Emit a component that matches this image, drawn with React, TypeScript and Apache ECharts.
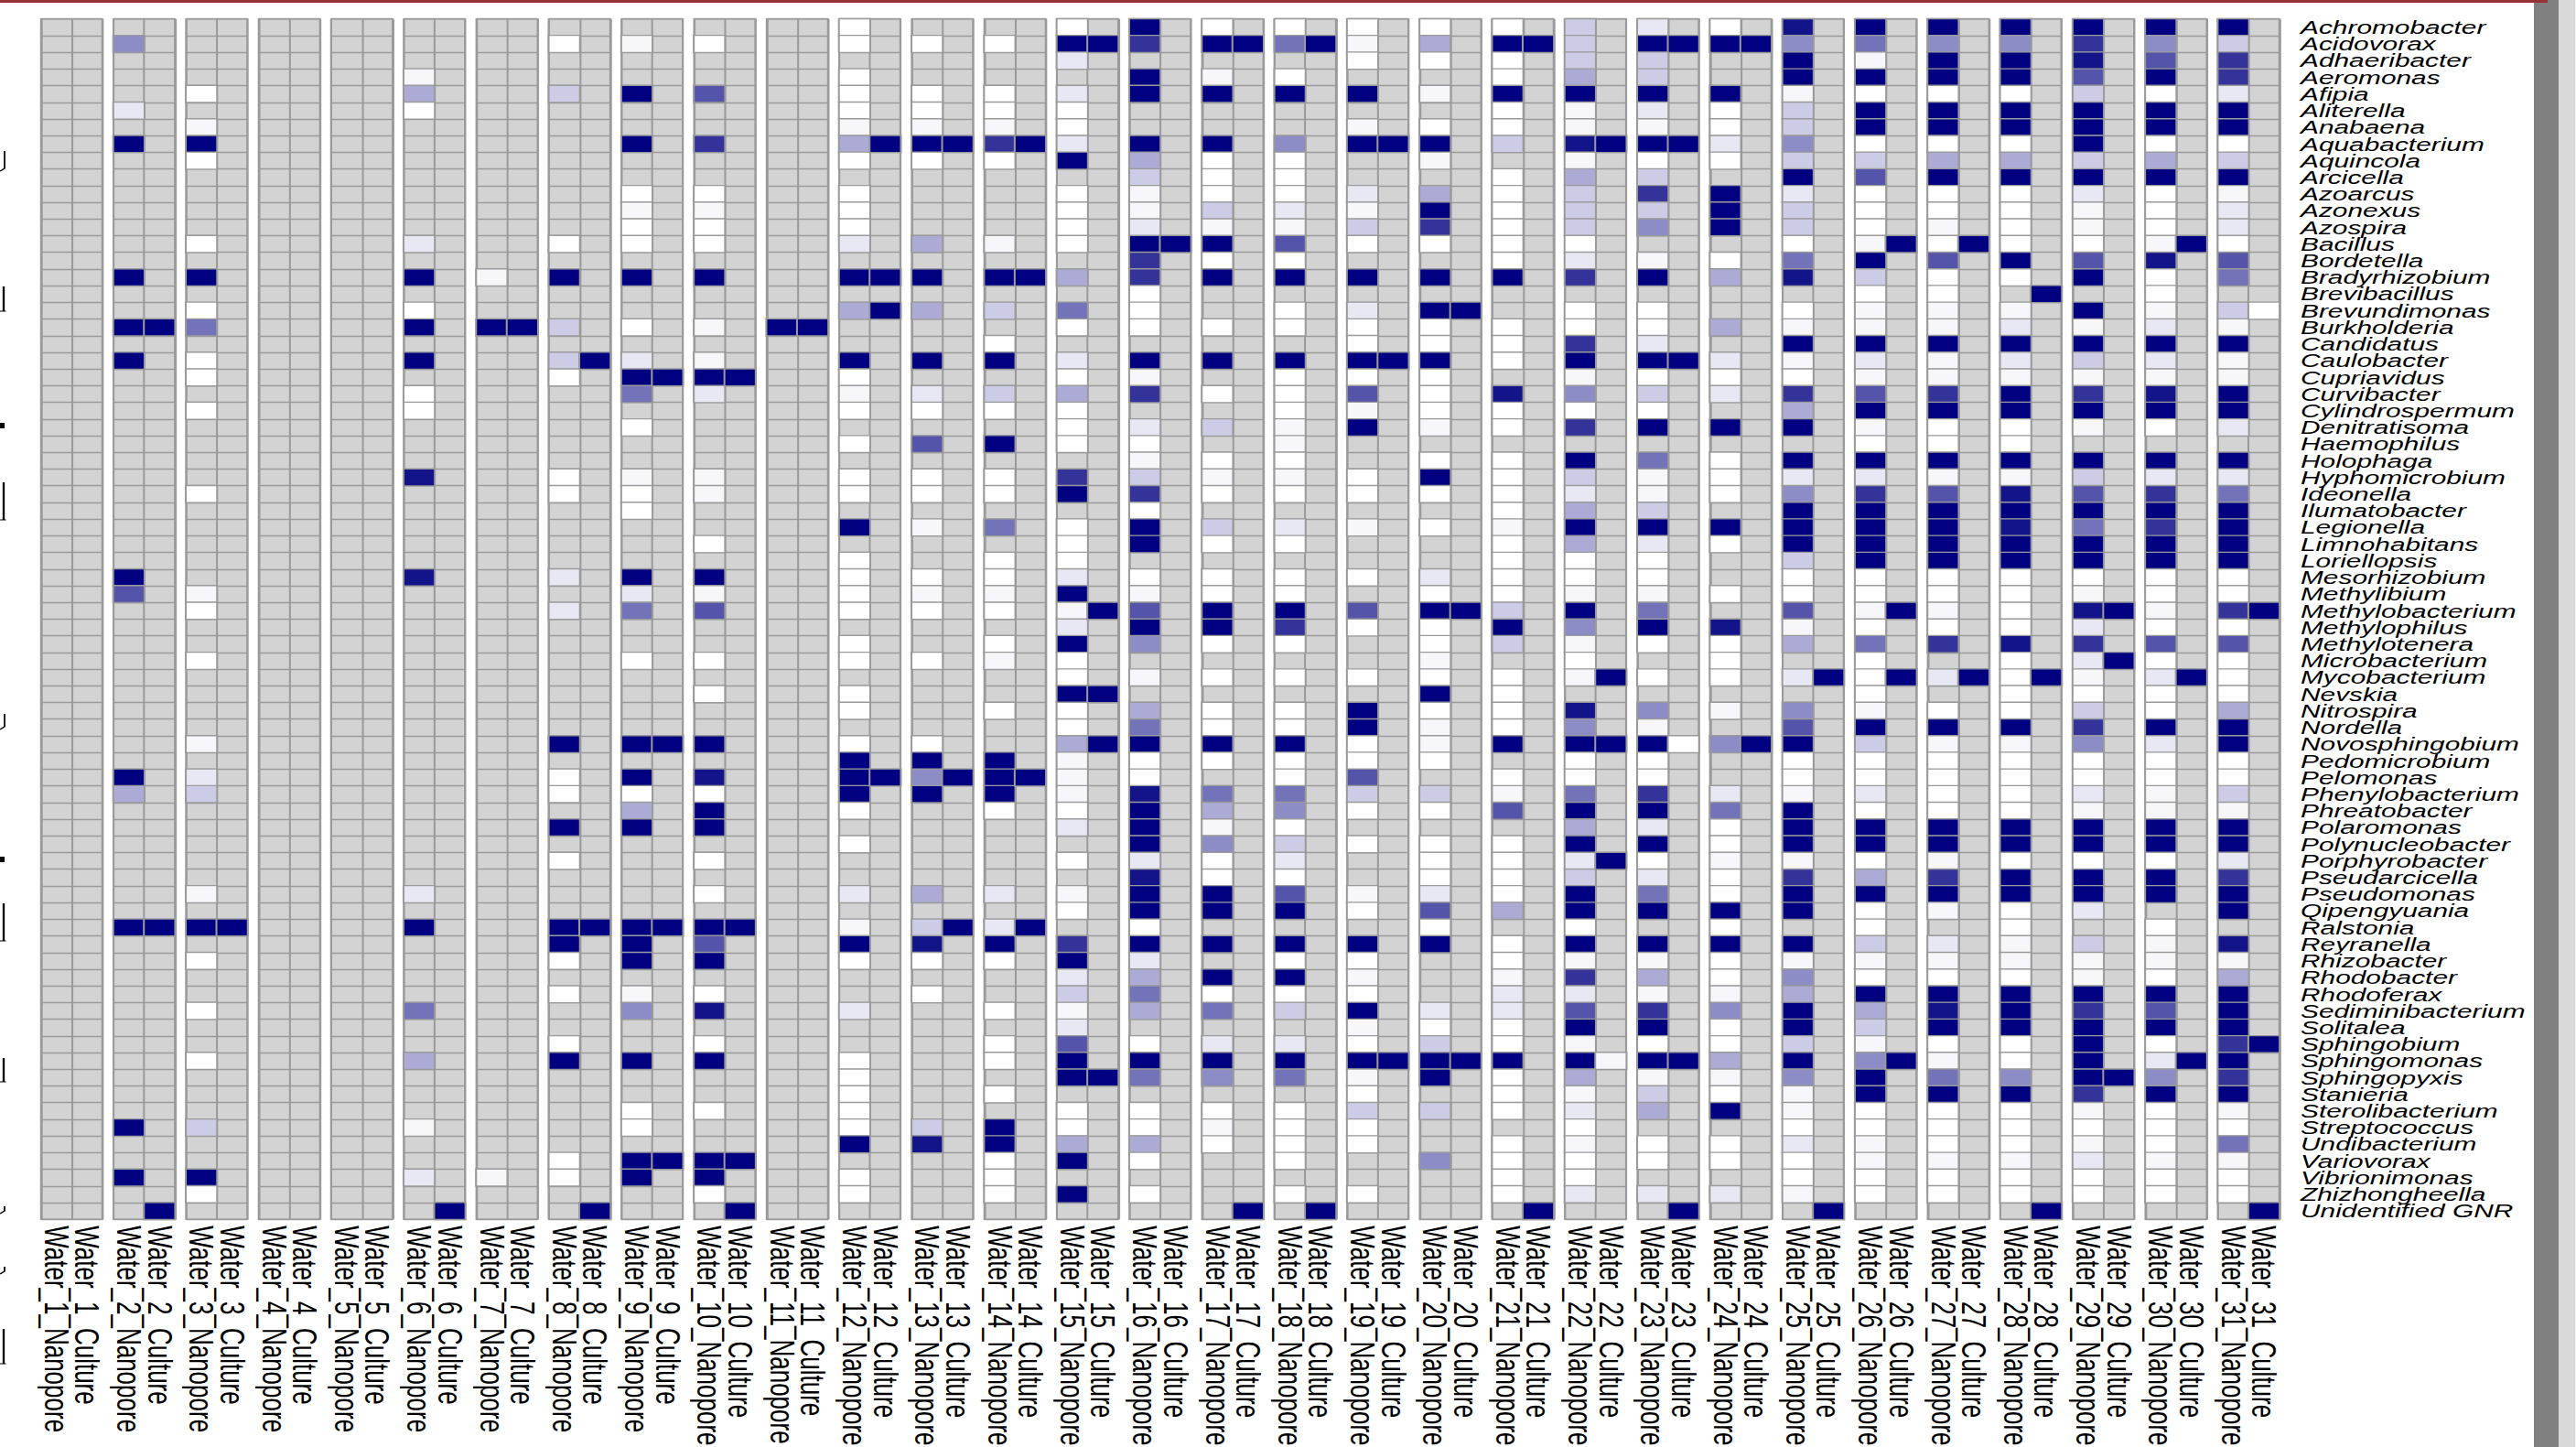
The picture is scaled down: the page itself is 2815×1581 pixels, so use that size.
import React, { useEffect, useRef } from "react";
import * as echarts from "echarts";

// The reference is a raster stretched sideways; the chart is laid out in the
// narrower space and widened as a whole, so glyphs and lines widen with it.
const STRETCH = 1.45;

const genera = [
  "Achromobacter", "Acidovorax", "Adhaeribacter", "Aeromonas", "Afipia", "Aliterella", "Anabaena", "Aquabacterium",
  "Aquincola", "Arcicella", "Azoarcus", "Azonexus", "Azospira", "Bacillus", "Bordetella", "Bradyrhizobium",
  "Brevibacillus", "Brevundimonas", "Burkholderia", "Candidatus", "Caulobacter", "Cupriavidus", "Curvibacter",
  "Cylindrospermum", "Denitratisoma", "Haemophilus", "Holophaga", "Hyphomicrobium", "Ideonella", "Ilumatobacter",
  "Legionella", "Limnohabitans", "Loriellopsis", "Mesorhizobium", "Methylibium", "Methylobacterium", "Methylophilus",
  "Methylotenera", "Microbacterium", "Mycobacterium", "Nevskia", "Nitrospira", "Nordella", "Novosphingobium",
  "Pedomicrobium", "Pelomonas", "Phenylobacterium", "Phreatobacter", "Polaromonas", "Polynucleobacter",
  "Porphyrobacter", "Pseudarcicella", "Pseudomonas", "Qipengyuania", "Ralstonia", "Reyranella", "Rhizobacter",
  "Rhodobacter", "Rhodoferax", "Sediminibacterium", "Solitalea", "Sphingobium", "Sphingomonas", "Sphingopyxis",
  "Stanieria", "Sterolibacterium", "Streptococcus", "Undibacterium", "Variovorax", "Vibrionimonas", "Zhizhongheella",
  "Unidentified GNR",
];

// level index -> abundance on the white-to-navy scale
const shadeByLevel = [0, 0.03, 0.09, 0.2, 0.33, 0.45, 0.55, 0.67, 0.8, 1, 0.92];

type Cell = [number, number]; // [1-based genus number, shade level]; absent = no data

const nanopore: Cell[][] = [
  [],
  [[2,5],[6,2],[8,9],[16,9],[19,9],[21,9],[34,9],[35,7],[46,9],[47,4],[55,9],[67,9],[70,9]],
  [[5,0],[7,1],[8,9],[9,0],[14,0],[16,9],[18,0],[19,6],[21,0],[22,0],[24,0],[29,0],[35,1],[36,0],[39,0],[44,1],[46,2],[47,3],[53,1],[55,9],[57,0],[60,0],[63,0],[67,3],[70,9],[71,0]],
  [],
  [],
  [[4,1],[5,4],[6,0],[14,2],[16,9],[18,0],[19,9],[21,9],[23,0],[24,0],[28,10],[34,10],[53,2],[55,9],[60,6],[63,4],[67,1],[70,2]],
  [[16,1],[19,9],[70,1]],
  [[2,0],[5,3],[14,0],[16,9],[19,3],[21,3],[22,0],[28,0],[29,0],[34,2],[36,2],[44,9],[46,0],[47,0],[49,9],[51,0],[55,9],[56,9],[57,0],[59,0],[62,0],[63,9],[69,0],[70,0]],
  [[2,1],[5,9],[8,9],[11,0],[12,1],[13,0],[14,0],[16,9],[19,0],[21,2],[22,9],[23,6],[25,0],[28,1],[29,0],[30,0],[34,9],[35,2],[36,6],[39,0],[44,9],[46,9],[47,0],[48,4],[49,9],[55,9],[56,9],[57,9],[59,1],[60,5],[63,9],[66,0],[67,0],[69,9],[70,9]],
  [[2,0],[5,7],[8,8],[11,0],[12,1],[13,0],[14,0],[16,9],[19,1],[21,1],[22,9],[23,2],[28,1],[29,1],[32,0],[34,9],[35,1],[36,7],[39,0],[41,0],[44,9],[46,10],[47,0],[48,9],[49,9],[51,0],[53,0],[55,9],[56,7],[57,9],[59,0],[60,10],[62,0],[63,9],[66,0],[69,9],[70,9],[71,0]],
  [[19,9]],
  [[1,0],[2,0],[4,0],[5,0],[6,0],[7,1],[8,4],[9,0],[11,0],[12,0],[13,0],[14,2],[16,9],[18,4],[21,9],[22,0],[23,1],[24,0],[26,0],[28,0],[29,0],[31,9],[33,0],[34,0],[35,0],[36,0],[38,0],[39,0],[41,0],[42,0],[44,0],[45,9],[46,9],[47,9],[48,0],[50,0],[53,2],[55,1],[56,9],[57,0],[60,2],[63,0],[64,0],[65,0],[66,0],[67,0],[68,9],[70,0],[71,0]],
  [[2,0],[5,0],[6,0],[7,1],[8,9],[9,0],[14,4],[16,9],[18,4],[21,9],[23,2],[24,0],[26,7],[28,0],[29,0],[31,1],[34,0],[35,1],[36,0],[39,0],[44,0],[45,9],[46,5],[47,9],[53,4],[55,3],[56,10],[57,0],[59,0],[67,3],[68,10]],
  [[2,0],[5,0],[6,0],[7,1],[8,8],[9,0],[14,1],[16,9],[18,3],[20,0],[21,9],[23,3],[24,0],[26,9],[28,0],[29,0],[31,6],[33,0],[34,0],[35,1],[36,0],[38,0],[39,1],[42,0],[45,9],[46,9],[47,9],[48,0],[53,2],[55,2],[56,9],[57,0],[60,0],[62,0],[63,0],[65,0],[67,9],[68,9],[69,0],[70,0],[71,0]],
  [[1,0],[2,9],[3,2],[5,2],[6,0],[7,0],[8,2],[9,9],[11,0],[12,0],[13,0],[14,0],[16,4],[18,6],[19,0],[21,2],[22,0],[23,4],[24,0],[25,0],[26,0],[28,8],[29,9],[31,0],[32,0],[33,0],[34,2],[35,9],[36,1],[37,2],[38,9],[39,0],[40,0],[41,9],[42,0],[43,0],[44,4],[45,1],[46,1],[47,1],[48,0],[49,2],[51,0],[53,1],[54,0],[56,8],[57,9],[58,2],[59,3],[60,1],[61,2],[62,7],[63,9],[64,9],[66,0],[67,0],[68,4],[69,9],[71,9]],
  [[1,9],[2,8],[4,9],[5,9],[8,9],[9,4],[10,3],[11,1],[12,1],[13,2],[14,9],[15,8],[16,8],[17,0],[18,0],[19,0],[21,9],[22,1],[23,8],[25,2],[26,0],[27,1],[28,3],[29,8],[30,0],[31,9],[32,9],[34,0],[35,1],[36,7],[37,9],[38,5],[40,1],[42,4],[43,6],[44,9],[45,0],[46,0],[47,10],[48,9],[49,9],[50,9],[51,2],[52,10],[53,9],[54,9],[55,0],[56,9],[57,2],[58,4],[59,6],[60,4],[62,0],[63,9],[64,6],[66,0],[67,0],[68,4],[69,0],[71,0]],
  [[1,0],[2,9],[4,1],[5,9],[8,9],[9,0],[10,0],[11,0],[12,3],[13,1],[14,9],[15,0],[16,9],[19,0],[21,9],[23,0],[25,3],[27,0],[28,1],[29,0],[31,3],[32,0],[34,0],[35,0],[36,9],[37,9],[38,0],[40,0],[42,0],[43,0],[44,9],[45,0],[47,6],[48,4],[49,1],[50,5],[51,0],[52,0],[53,9],[54,9],[56,9],[58,9],[59,0],[60,6],[62,2],[63,9],[64,5],[66,0],[67,1],[68,0]],
  [[1,0],[2,6],[4,0],[5,9],[8,5],[9,0],[10,0],[11,0],[12,2],[13,1],[14,7],[15,0],[16,9],[18,0],[19,0],[21,9],[22,0],[23,0],[24,0],[25,1],[26,1],[27,0],[28,1],[29,0],[31,2],[32,0],[34,0],[35,0],[36,9],[37,8],[38,0],[40,0],[42,0],[43,0],[44,9],[45,0],[46,0],[47,6],[48,5],[49,0],[50,3],[51,2],[52,0],[53,7],[54,9],[56,9],[57,0],[58,9],[59,0],[60,3],[62,2],[63,9],[64,6],[66,0],[67,0],[68,0],[69,0],[71,0]],
  [[1,0],[2,1],[3,0],[5,9],[7,1],[8,9],[11,2],[12,1],[13,3],[14,0],[16,9],[18,2],[19,0],[20,0],[21,9],[22,0],[23,7],[24,1],[25,9],[28,0],[29,0],[31,1],[34,0],[36,7],[37,0],[40,0],[42,9],[43,9],[44,0],[45,0],[46,7],[47,3],[48,0],[50,0],[53,1],[54,0],[56,9],[57,0],[58,1],[59,0],[60,9],[61,1],[62,0],[63,9],[64,1],[65,0],[66,3],[67,0],[68,0],[71,0]],
  [[1,0],[2,4],[3,0],[5,1],[7,0],[8,9],[9,1],[11,4],[12,9],[13,8],[14,0],[16,9],[18,9],[19,0],[20,0],[21,9],[22,0],[23,0],[24,0],[25,1],[27,0],[28,9],[29,0],[31,0],[34,2],[35,0],[36,9],[37,0],[38,0],[39,1],[40,0],[41,9],[42,0],[43,1],[44,1],[45,0],[47,3],[48,0],[50,0],[51,0],[52,0],[53,2],[54,7],[55,0],[56,9],[60,2],[61,0],[62,3],[63,9],[64,9],[66,3],[69,5]],
  [[1,0],[2,9],[3,0],[4,0],[5,9],[6,0],[7,0],[8,3],[10,0],[11,0],[12,0],[13,0],[14,0],[15,0],[16,9],[19,0],[20,0],[21,0],[23,10],[24,0],[25,0],[27,0],[28,0],[29,0],[30,0],[31,1],[32,0],[33,0],[34,0],[35,0],[36,3],[37,9],[38,3],[40,0],[41,0],[42,0],[43,0],[44,9],[46,0],[47,1],[48,7],[50,0],[51,0],[52,0],[53,0],[54,4],[56,0],[57,0],[58,1],[59,2],[60,2],[61,0],[62,0],[63,9],[64,0],[65,0],[66,0],[68,0],[69,0],[70,0],[71,0]],
  [[1,3],[2,3],[3,3],[4,4],[5,9],[6,1],[7,1],[8,10],[9,1],[10,4],[11,3],[12,3],[13,3],[14,0],[15,2],[16,8],[18,0],[19,0],[20,8],[21,9],[22,1],[23,5],[24,0],[25,8],[27,9],[28,3],[29,2],[30,4],[31,9],[32,4],[33,0],[34,0],[35,1],[36,9],[37,5],[38,1],[39,0],[40,1],[42,10],[43,5],[44,9],[45,0],[46,0],[47,6],[48,9],[49,4],[50,9],[51,2],[52,3],[53,9],[54,9],[55,0],[56,9],[57,1],[58,8],[59,2],[60,7],[61,9],[62,1],[63,9],[64,4],[65,1],[66,2],[67,0],[68,1],[69,0],[70,0],[71,2]],
  [[1,2],[2,9],[3,3],[4,3],[5,9],[6,2],[7,1],[8,9],[9,0],[10,3],[11,8],[12,3],[13,5],[15,1],[16,9],[18,0],[19,0],[20,2],[21,9],[22,0],[23,3],[24,0],[25,9],[27,6],[28,1],[29,1],[30,3],[31,9],[32,2],[33,0],[34,0],[35,1],[36,6],[37,9],[38,0],[40,0],[42,5],[43,1],[44,9],[45,0],[46,0],[47,8],[48,9],[49,2],[50,9],[51,0],[52,2],[53,6],[54,9],[56,9],[57,1],[58,4],[59,1],[60,8],[61,9],[62,0],[63,9],[64,1],[65,3],[66,4],[68,0],[69,0],[71,2]],
  [[1,0],[2,9],[5,9],[6,0],[7,0],[8,2],[9,0],[11,9],[12,9],[13,9],[15,0],[16,4],[19,4],[21,2],[22,0],[23,2],[25,9],[27,0],[28,0],[29,0],[31,9],[32,0],[35,0],[37,10],[38,0],[39,0],[40,0],[42,1],[44,5],[47,2],[48,6],[49,0],[50,0],[51,1],[52,0],[53,0],[54,9],[55,0],[56,9],[57,0],[58,0],[59,1],[60,5],[61,0],[62,0],[63,4],[64,1],[65,0],[66,9],[68,0],[69,0],[71,2]],
  [[1,10],[2,5],[3,9],[4,9],[5,1],[6,3],[7,3],[8,5],[9,3],[10,9],[11,2],[12,3],[13,3],[14,0],[15,6],[16,10],[18,0],[19,1],[20,9],[21,1],[22,0],[23,8],[24,4],[25,9],[27,9],[28,2],[29,5],[30,9],[31,9],[32,9],[33,3],[34,0],[35,0],[36,7],[37,1],[38,4],[40,2],[42,5],[43,7],[44,9],[45,0],[46,0],[47,1],[48,9],[49,9],[50,9],[51,1],[52,8],[53,9],[54,9],[56,9],[57,1],[58,5],[59,4],[60,9],[61,9],[62,3],[63,9],[64,5],[65,1],[66,1],[67,0],[68,2],[69,0],[70,0],[71,1]],
  [[1,9],[2,6],[3,1],[4,9],[5,0],[6,9],[7,9],[8,0],[9,3],[10,7],[11,0],[12,0],[13,0],[14,1],[15,9],[16,3],[17,0],[18,1],[19,1],[20,9],[21,2],[22,1],[23,7],[24,9],[25,1],[26,0],[27,9],[28,2],[29,8],[30,9],[31,9],[32,9],[33,9],[34,0],[35,0],[36,1],[37,0],[38,6],[39,0],[40,0],[41,0],[42,1],[43,9],[44,3],[45,0],[46,0],[47,2],[48,0],[49,9],[50,9],[51,0],[52,4],[53,9],[54,0],[55,0],[56,3],[57,1],[58,0],[59,9],[60,4],[61,3],[62,1],[63,5],[64,9],[65,9],[66,0],[67,0],[68,1],[69,1],[70,0],[71,0]],
  [[1,9],[2,5],[3,9],[4,9],[5,0],[6,9],[7,9],[8,0],[9,4],[10,9],[11,0],[12,0],[13,1],[14,0],[15,7],[16,0],[17,0],[18,1],[19,1],[20,9],[21,1],[22,1],[23,8],[24,9],[25,0],[26,0],[27,9],[28,1],[29,7],[30,9],[31,9],[32,9],[33,9],[34,0],[35,0],[36,1],[37,0],[38,8],[40,2],[42,0],[43,9],[44,1],[45,0],[46,0],[47,0],[48,0],[49,9],[50,9],[51,1],[52,8],[53,9],[54,1],[56,2],[57,1],[58,0],[59,9],[60,10],[61,9],[62,0],[63,1],[64,6],[65,9],[66,0],[67,0],[68,0],[69,1],[70,0],[71,0]],
  [[1,9],[2,5],[3,9],[4,9],[5,0],[6,9],[7,9],[8,0],[9,4],[10,9],[11,0],[12,0],[13,0],[14,0],[15,9],[16,0],[18,1],[19,2],[20,9],[21,2],[22,1],[23,9],[24,9],[25,0],[26,0],[27,9],[28,1],[29,10],[30,9],[31,10],[32,9],[33,9],[34,0],[35,0],[36,0],[37,0],[38,10],[39,0],[40,0],[41,0],[42,0],[43,9],[44,1],[45,0],[46,0],[47,0],[48,0],[49,9],[50,9],[51,0],[52,9],[53,9],[54,0],[55,0],[56,1],[57,1],[58,0],[59,9],[60,9],[61,9],[62,0],[63,0],[64,5],[65,9],[66,0],[67,0],[68,0],[69,1],[70,0],[71,0]],
  [[1,9],[2,8],[3,10],[4,7],[5,3],[6,9],[7,9],[8,9],[9,3],[10,9],[11,2],[12,1],[13,1],[14,0],[15,7],[16,9],[18,9],[19,1],[20,9],[21,3],[22,1],[23,8],[24,9],[25,1],[27,9],[28,3],[29,7],[30,9],[31,6],[32,9],[33,9],[34,0],[35,1],[36,10],[37,2],[38,8],[39,2],[40,1],[41,0],[42,3],[43,8],[44,5],[45,0],[46,0],[47,2],[48,1],[49,9],[50,9],[51,0],[52,9],[53,9],[54,2],[56,3],[57,1],[58,1],[59,9],[60,8],[61,9],[62,9],[63,9],[64,9],[65,8],[66,1],[67,0],[68,1],[69,2],[70,0],[71,0]],
  [[1,9],[2,5],[3,7],[4,9],[5,0],[6,9],[7,9],[8,0],[9,4],[10,9],[11,0],[12,0],[13,0],[14,1],[15,10],[16,0],[17,0],[18,1],[19,2],[20,9],[21,2],[22,1],[23,10],[24,9],[25,0],[27,9],[28,2],[29,8],[30,9],[31,8],[32,9],[33,9],[34,0],[35,0],[36,1],[37,0],[38,7],[39,0],[40,2],[41,0],[42,0],[43,9],[44,2],[45,0],[46,0],[47,1],[48,1],[49,9],[50,9],[51,0],[52,9],[53,9],[55,0],[56,1],[57,1],[58,0],[59,9],[60,7],[61,9],[62,0],[63,2],[64,5],[65,9],[66,0],[67,0],[68,0],[69,1],[70,0],[71,0]],
  [[1,9],[2,3],[3,8],[4,8],[5,2],[6,9],[7,9],[8,0],[9,3],[10,9],[11,1],[12,2],[13,2],[14,0],[15,7],[16,6],[18,3],[19,1],[20,9],[21,1],[22,1],[23,9],[24,9],[25,2],[27,9],[28,2],[29,6],[30,9],[31,9],[32,9],[33,9],[34,0],[35,0],[36,8],[37,0],[38,7],[39,0],[40,0],[41,0],[42,4],[43,9],[44,9],[45,0],[46,0],[47,3],[48,1],[49,9],[50,9],[51,2],[52,8],[53,9],[54,9],[56,10],[57,1],[58,4],[59,9],[60,9],[61,9],[62,8],[63,9],[64,8],[65,9],[66,1],[67,0],[68,6],[69,1],[70,0],[71,0]],
];

const culture: Cell[][] = [
  [],
  [[19,9],[55,9],[72,9]],
  [[55,9]],
  [],
  [],
  [[72,9]],
  [[19,9]],
  [[21,9],[55,9],[72,9]],
  [[22,9],[44,9],[55,9],[69,9]],
  [[22,9],[55,9],[69,9],[72,9]],
  [[19,9]],
  [[8,9],[16,9],[18,9],[46,9]],
  [[8,9],[46,9],[55,9]],
  [[8,9],[16,9],[46,9],[55,9]],
  [[2,9],[36,9],[41,9],[44,9],[64,9]],
  [[14,9]],
  [[2,9],[72,9]],
  [[2,9],[72,9]],
  [[8,9],[21,9],[63,9]],
  [[18,9],[36,9],[63,9]],
  [[2,9],[72,9]],
  [[8,9],[40,9],[44,9],[51,9],[63,1]],
  [[2,9],[8,9],[21,9],[44,0],[63,9],[72,9]],
  [[2,9],[44,9]],
  [[40,9],[72,9]],
  [[14,9],[36,9],[40,9],[63,9]],
  [[14,9],[40,9]],
  [[17,9],[40,9],[72,9]],
  [[36,9],[39,9],[64,9]],
  [[14,9],[40,9],[63,9]],
  [[18,0],[36,9],[62,9],[72,9]],
];

export default function App() {
  const ref = useRef<HTMLDivElement>(null);

  useEffect(() => {
    const chart = echarts.init(ref.current!, undefined, { renderer: "svg" });
    const sx = (px: number) => px / STRETCH;
    const font = "'Liberation Sans', Arial, sans-serif";
    const lineColor = "#9a9a9a";

    const grid: any[] = [];
    const xAxis: any[] = [];
    const yAxis: any[] = [];
    const series: any[] = [];

    nanopore.forEach((nanoCells, i) => {
      const sample = i + 1;
      grid.push({
        left: sx(44.8 + i * 79.3),
        width: sx(67),
        top: 20.7,
        height: 1311.5,
        outerBoundsMode: "none",
        show: true,
        backgroundColor: "#d3d3d3",
        borderColor: lineColor,
        borderWidth: 1.4,
      });
      xAxis.push({
        type: "category",
        gridIndex: i,
        data: [`Water_${sample}_Nanopore`, `Water_${sample}_Culture`],
        axisLine: { show: false },
        axisTick: { show: false },
        splitLine: { show: true, interval: 0, lineStyle: { color: lineColor, width: 1.4 } },
        axisLabel: {
          interval: 0,
          rotate: -90,
          margin: 7,
          color: "#000",
          fontSize: 26,
          fontFamily: font,
        },
      });
      const last = i === nanopore.length - 1;
      yAxis.push({
        type: "category",
        gridIndex: i,
        inverse: true,
        position: "right",
        data: genera,
        axisLine: { show: false },
        axisTick: { show: false },
        splitLine: { show: true, interval: 0, lineStyle: { color: lineColor, width: 1.4 } },
        axisLabel: last
          ? {
              show: true,
              interval: 0,
              margin: 16,
              color: "#000",
              fontSize: 20.6,
              fontStyle: "italic",
              fontFamily: font,
            }
          : { show: false },
      });
      const toPoint = (column: number) => (c: Cell) => [column, c[0] - 1, shadeByLevel[c[1]]];
      series.push({
        type: "heatmap",
        xAxisIndex: i,
        yAxisIndex: i,
        data: [...nanoCells.map(toPoint(0)), ...culture[i].map(toPoint(1))],
        itemStyle: { borderColor: lineColor, borderWidth: 1.4 },
        emphasis: { disabled: true },
      });
    });

    // Fragments of a title cut off by the reference's left edge; too little shows to read it.
    const stem = (y1: number, y2: number) => [
      { type: "line", shape: { x1: sx(4), y1, x2: sx(4), y2 }, style: { stroke: "#000", lineWidth: 1.6 } },
      { type: "line", shape: { x1: 0, y1: y2, x2: sx(6.5), y2 }, style: { stroke: "#000", lineWidth: 1 } },
    ];
    const dot = (y: number) => ({ type: "rect", shape: { x: 0, y: y - 3, width: sx(5), height: 6 }, style: { fill: "#000" } });
    const hook = (y1: number, y2: number) => ({
      type: "polyline",
      shape: { points: [[0, y2], [sx(5), y2 - 3], [sx(5), y1]] },
      style: { stroke: "#000", lineWidth: 1.2, fill: "none" },
    });

    chart.setOption({
      animation: false,
      backgroundColor: "#fff",
      tooltip: { show: false },
      visualMap: {
        show: false,
        type: "continuous",
        min: 0,
        max: 1,
        seriesIndex: series.map((_, i) => i),
        inRange: { color: ["#ffffff", "#000080"] },
      },
      grid,
      xAxis,
      yAxis,
      series,
      graphic: [
        { type: "rect", shape: { x: sx(2769), y: 0, width: sx(27), height: 1581 }, style: { fill: "#808080" } },
        { type: "rect", shape: { x: sx(2796), y: 0, width: sx(19), height: 1581 }, style: { fill: "#d9d9d9" } },
        { type: "rect", shape: { x: 0, y: 0, width: sx(2784), height: 3 }, style: { fill: "#993333" } },
        hook(165, 187),
        ...stem(313, 340),
        dot(465),
        ...stem(527, 568),
        hook(780, 797),
        dot(939),
        ...stem(987, 1028),
        ...stem(1156, 1182),
        hook(1318, 1326),
        hook(1384, 1392),
        ...stem(1452, 1490),
      ],
    });
    return () => chart.dispose();
  }, []);

  return (
    <div
      ref={ref}
      style={{
        position: "absolute",
        left: 0,
        top: 0,
        width: 2815 / STRETCH,
        height: 1581,
        transform: `scaleX(${STRETCH})`,
        transformOrigin: "0 0",
      }}
    />
  );
}
